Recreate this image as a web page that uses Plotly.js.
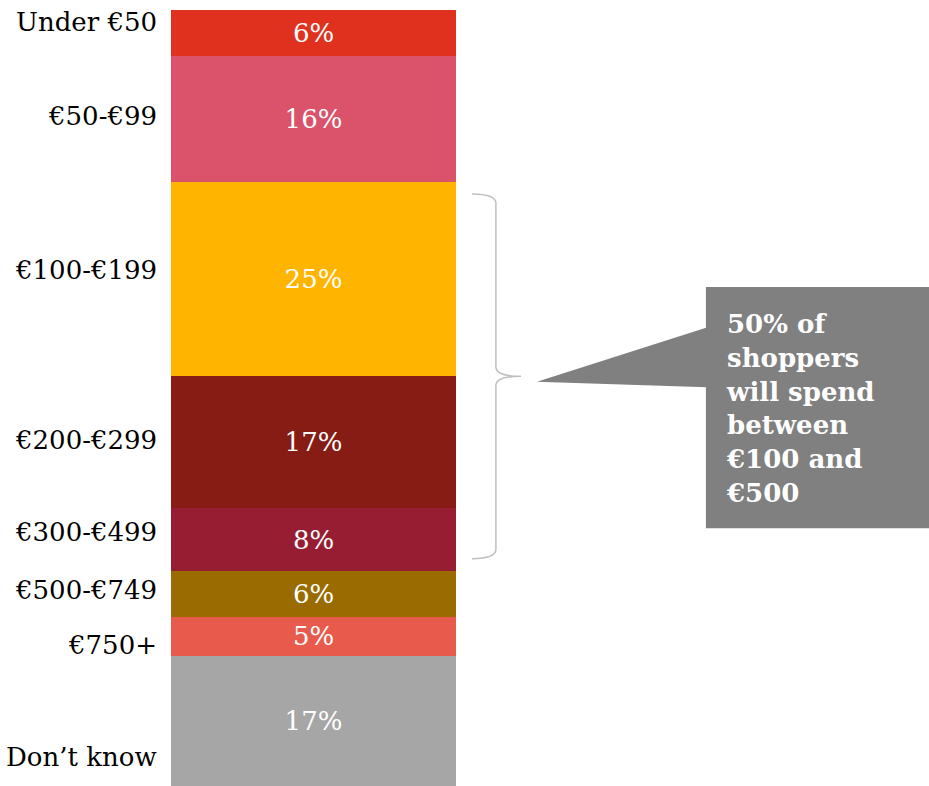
<!DOCTYPE html>
<html>
<head>
<meta charset="utf-8">
<script src="https://cdn.plot.ly/plotly-3.0.1.min.js"></script>
<style>html,body{margin:0;padding:0;background:#fff;}#chart{width:929px;height:786px;}</style>
</head>
<body>
<div id="chart"></div>
<script>
// ---- data ----
const categories = ["Under €50", "€50-€99", "€100-€199", "€200-€299", "€300-€499", "€500-€749", "€750+", "Don’t know"];
const shares = [5.9, 16.2, 25.1, 17.0, 8.1, 5.9, 5.0, 16.8];
const shareLabels = ["6%", "16%", "25%", "17%", "8%", "6%", "5%", "17%"];
const colors = ["#E0311F", "#DB536A", "#FFB500", "#861C13", "#971D33", "#996B00", "#E85B4C", "#A6A6A6"];
const calloutText = "50% of<br>shoppers<br>will spend<br>between<br>€100 and<br>€500";
// label nudges (px) to mimic original placement
const labelNudge = [11, 3, 8.5, 2, 7.5, 4, -8.5, -36];

const FONT = "DejaVu Serif, Georgia, serif";

const traces = categories.map((c, i) => ({
  type: "bar",
  x: [0],
  y: [shares[i]],
  width: [1],
  name: c,
  marker: {color: colors[i], line: {width: 0}},
  text: [shareLabels[i]],
  textposition: "inside",
  insidetextanchor: "middle",
  constraintext: "none",
  textfont: {family: FONT, size: 26, color: "#ffffff"},
  hoverinfo: "none",
  showlegend: false
}));

// cumulative positions
const cum = [0];
shares.forEach(v => cum.push(cum[cum.length - 1] + v));

const annotations = categories.map((c, i) => ({
  x: -0.5, xref: "x", y: (cum[i] + cum[i + 1]) / 2, yref: "y",
  text: c, showarrow: false, xanchor: "right", yanchor: "middle",
  xshift: -12, yshift: labelNudge[i],
  font: {family: FONT, size: 26, color: "#000000"}
}));

annotations.push({
  x: 1.44, xref: "x", y: 51.3, yref: "y",
  text: "<b>" + calloutText + "</b>", showarrow: false,
  xanchor: "left", yanchor: "middle", align: "left",
  font: {family: FONT, size: 26, color: "#ffffff"}
});

// brace spanning €100-€499 segments
const yTop = cum[2] + 1.6, yBot = cum[5] - 1.6, yMid = (yTop + yBot) / 2;
const bx0 = 0.556, bx1 = 0.640, bx2 = 0.728, r = 1.2;
const bracePath = `M ${bx0},${yTop} Q ${bx1},${yTop} ${bx1},${yTop + r} L ${bx1},${yMid - r} Q ${bx1},${yMid} ${bx2},${yMid} Q ${bx1},${yMid} ${bx1},${yMid + r} L ${bx1},${yBot - r} Q ${bx1},${yBot} ${bx0},${yBot}`;

const shapes = [
  {type: "path", path: bracePath, xref: "x", yref: "y", line: {color: "#BFBFBF", width: 1.5}},
  {type: "rect", xref: "x", yref: "y", x0: 1.377, x1: 2.3, y0: 35.7, y1: 66.8, fillcolor: "#808080", line: {width: 0}},
  {type: "path", xref: "x", yref: "y", path: "M 1.38,40.9 L 0.784,47.9 L 1.38,48.6 Z", fillcolor: "#808080", line: {width: 0}}
];

const layout = {
  width: 929, height: 786,
  margin: {l: 171, r: 0, t: 10, b: 0, pad: 0},
  barmode: "stack",
  bargap: 0,
  paper_bgcolor: "#ffffff",
  plot_bgcolor: "#ffffff",
  xaxis: {range: [-0.5, -0.5 + 758 / 285], visible: false, fixedrange: true},
  yaxis: {range: [100, 0], visible: false, fixedrange: true},
  annotations: annotations,
  shapes: shapes,
  showlegend: false
};

Plotly.newPlot("chart", traces, layout, {displayModeBar: false, staticPlot: true});
</script>
</body>
</html>
